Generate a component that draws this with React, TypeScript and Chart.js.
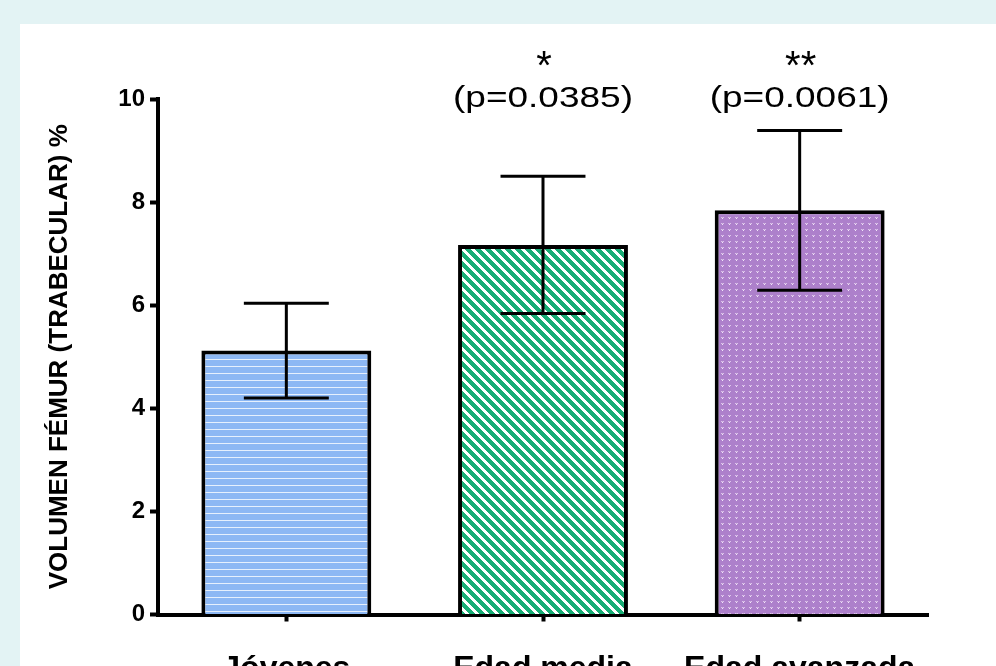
import React, { useEffect, useRef } from "react";
import { Chart, registerables } from "chart.js";

Chart.register(...registerables);

const categories = ["Jóvenes", "Edad media", "Edad avanzada"];
const meanValues = [5.12, 7.17, 7.84];
const errorValues = [0.92, 1.33, 1.55];
const significance = ["", "*", "**"];
const pValues = ["", "(p=0.0385)", "(p=0.0061)"];
const yTicks = [0, 2, 4, 6, 8, 10];
const yTitle = "VOLUMEN FÉMUR (TRABECULAR) %";

const FONT = '"Liberation Sans", Arial, Helvetica, sans-serif';

function makePattern(kind: string): CanvasPattern | string {
  const c = document.createElement("canvas");
  const ctx = c.getContext("2d");
  if (!ctx) return "#999";
  if (kind === "blue") {
    c.width = 8;
    c.height = 7;
    ctx.fillStyle = "#8db8f4";
    ctx.fillRect(0, 0, 8, 7);
    ctx.fillStyle = "#e6f0fd";
    ctx.fillRect(0, 6, 8, 1);
  } else if (kind === "green") {
    const n = 10;
    c.width = n;
    c.height = n;
    const img = ctx.createImageData(n, n);
    for (let y = 0; y < n; y++) {
      for (let x = 0; x < n; x++) {
        const k = (x - y + 2 * n) % n;
        const i = (y * n + x) * 4;
        const green = k < 5.5;
        img.data[i] = green ? 24 : 255;
        img.data[i + 1] = green ? 174 : 255;
        img.data[i + 2] = green ? 118 : 255;
        img.data[i + 3] = 255;
      }
    }
    ctx.putImageData(img, 0, 0);
  } else {
    c.width = 7;
    c.height = 6;
    ctx.fillStyle = "#ad80cb";
    ctx.fillRect(0, 0, 7, 6);
    ctx.fillStyle = "#dcc4ea";
    ctx.fillRect(1, 1, 1, 1);
    ctx.fillRect(3, 1, 1, 1);
    ctx.fillStyle = "#f2e6f8";
    ctx.fillRect(2, 2, 1, 1);
    ctx.fillStyle = "#c8a6dd";
    ctx.fillRect(2, 1, 1, 1);
  }
  const p = ctx.createPattern(c, "repeat");
  return p || "#999";
}

const errorBarPlugin = {
  id: "errorBarsAndNotes",
  afterDatasetsDraw(chart: any) {
    const ctx = chart.ctx;
    const meta = chart.getDatasetMeta(0);
    const yScale = chart.scales.y;
    ctx.save();
    ctx.strokeStyle = "#000";
    ctx.lineWidth = 3;
    ctx.lineCap = "butt";
    meta.data.forEach((bar: any, i: number) => {
      const x = bar.x;
      const top = yScale.getPixelForValue(meanValues[i] + errorValues[i]);
      const bot = yScale.getPixelForValue(meanValues[i] - errorValues[i]);
      const half = bar.width * 0.25;
      ctx.beginPath();
      ctx.moveTo(x, top);
      ctx.lineTo(x, bot);
      ctx.moveTo(x - half, top);
      ctx.lineTo(x + half, top);
      ctx.moveTo(x - half, bot);
      ctx.lineTo(x + half, bot);
      ctx.stroke();
    });
    const area = chart.chartArea;
    ctx.fillStyle = "#000";
    ctx.textAlign = "center";
    ctx.textBaseline = "alphabetic";
    meta.data.forEach((bar: any, i: number) => {
      const x = bar.x;
      if (pValues[i]) {
        ctx.save();
        ctx.translate(x, area.top + 8);
        ctx.scale(1, 0.78);
        ctx.font = `37px ${FONT}`;
        ctx.fillText(pValues[i], 0, 0);
        ctx.restore();
      }
      if (significance[i]) {
        ctx.save();
        ctx.translate(x + 1, area.top - 20);
        ctx.font = `40px ${FONT}`;
        ctx.fillText(significance[i], 0, 0);
        ctx.restore();
      }
    });
    ctx.restore();
  },
};

export default function App() {
  const ref = useRef<HTMLCanvasElement>(null);
  useEffect(() => {
    if (!ref.current) return;
    const chart = new Chart(ref.current, {
      type: "bar",
      data: {
        labels: categories,
        datasets: [
          {
            data: meanValues,
            backgroundColor: [makePattern("blue"), makePattern("green"), makePattern("purple")] as any,
            borderColor: "#000",
            borderWidth: 4,
            barPercentage: 0.662,
            categoryPercentage: 1,
          },
        ],
      },
      options: {
        responsive: true,
        maintainAspectRatio: false,
        animation: false,
        layout: { padding: { top: 75, right: 68, left: 0, bottom: 0 } },
        plugins: { legend: { display: false }, tooltip: { enabled: false } },
        scales: {
          x: {
            type: "category",
            offset: true,
            grid: {
              display: true,
              drawOnChartArea: false,
              drawTicks: true,
              tickLength: 7,
              tickWidth: 4,
              tickColor: "#000",
              offset: false,
            },
            border: { display: true, color: "#000", width: 4 },
            ticks: {
              color: "#000",
              font: { family: FONT, size: 32, weight: "bold" },
              padding: 28,
              maxRotation: 0,
              autoSkip: false,
            },
            afterFit: (s: any) => {
              s.height = 51.5;
            },
          },
          y: {
            min: 0,
            max: 10,
            afterBuildTicks: (s: any) => {
              s.ticks = yTicks.map((v) => ({ value: v }));
            },
            grid: {
              drawOnChartArea: false,
              tickLength: 8,
              tickWidth: 4,
              tickColor: "#000",
            },
            border: { color: "#000", width: 4 },
            ticks: {
              color: "#000",
              font: { family: FONT, size: 24, weight: "bold" },
              padding: 5,
            },
            title: {
              display: true,
              text: yTitle,
              color: "#000",
              font: { family: FONT, size: 26, weight: "bold" },
              padding: { top: 24, bottom: 0 },
            },
            afterFit: (s: any) => {
              s.width = 138;
            },
          },
        },
      },
      plugins: [errorBarPlugin],
    } as any);
    return () => chart.destroy();
  }, []);
  return (
    <div
      style={{
        position: "fixed",
        left: 0,
        top: 0,
        width: 996,
        height: 666,
        background: "#e3f3f4",
        overflow: "hidden",
      }}
    >
      <div
        style={{
          position: "absolute",
          left: 20,
          top: 24,
          width: 976,
          height: 642,
          background: "#ffffff",
        }}
      >
        <canvas ref={ref} />
      </div>
    </div>
  );
}
